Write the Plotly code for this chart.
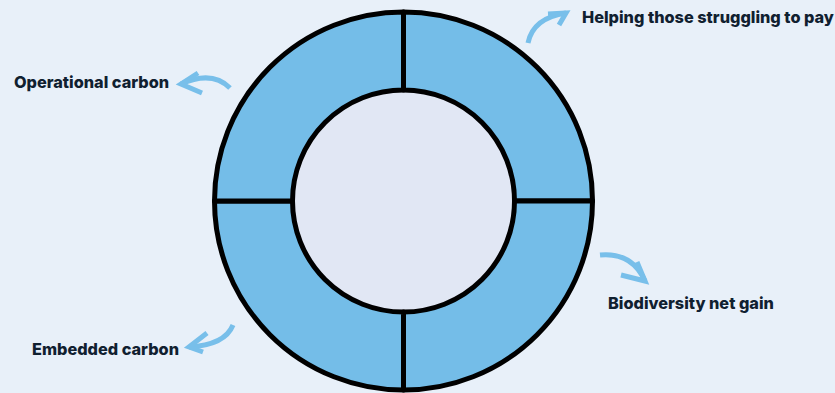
import plotly.graph_objects as go

categories = ["Helping those struggling to pay", "Biodiversity net gain",
              "Embedded carbon", "Operational carbon"]
values = [25, 25, 25, 25]

W, H = 835, 393
BG = "#e8f0f9"
HOLE_BG = "#e1e7f4"
RING = "#74bde8"
ARROW = "#78bfea"
TEXT = "#102030"

cx, cy, R, r_in = 403.5, 201, 189, 111


def px(x):
    return x / W


def py(y):
    return 1 - y / H


def path(pts_cmds):
    out = []
    for c in pts_cmds:
        if isinstance(c, str):
            out.append(c)
        else:
            out.append(f"{px(c[0]):.5f},{py(c[1]):.5f}")
    return " ".join(out)


fig = go.Figure(go.Pie(
    labels=categories,
    values=values,
    sort=False,
    direction="clockwise",
    rotation=0,
    hole=r_in / R,
    textinfo="none",
    hoverinfo="label",
    showlegend=False,
    marker=dict(colors=[RING] * 4, line=dict(color="#000000", width=5)),
    domain=dict(x=[px(cx - R), px(cx + R)], y=[py(cy + R), py(cy - R)]),
))

shapes = [dict(type="circle", xref="paper", yref="paper", layer="below",
               x0=px(cx - r_in), x1=px(cx + r_in), y0=py(cy + r_in), y1=py(cy - r_in),
               fillcolor=HOLE_BG, line=dict(width=0))]

arrows = [
    # shaft, barb1, barb2 (pixel coords)
    (["M", (230, 88), "Q", (212, 70), (181, 84)], (198, 73), (202, 93), (181, 84)),
    (["M", (528, 43), "Q", (533, 18), (566, 13)], (548, 14), (559, 25), (566, 13)),
    (["M", (600, 255), "Q", (632, 252), (645, 281)], (621, 275), (637, 262), (645, 281)),
    (["M", (233, 325), "Q", (225, 345), (189, 347)], (207, 333), (203, 352), (189, 347)),
]
for shaft, b1, b2, tip in arrows:
    shapes.append(dict(type="path", xref="paper", yref="paper", path=path(shaft),
                       line=dict(color=ARROW, width=5)))
    shapes.append(dict(type="path", xref="paper", yref="paper",
                       path=path(["M", b1, "L", tip, "L", b2]),
                       line=dict(color=ARROW, width=5)))

label_pos = {
    "Helping those struggling to pay": (580, 17, "left"),
    "Biodiversity net gain": (606, 303, "left"),
    "Embedded carbon": (30, 349, "left"),
    "Operational carbon": (12, 82, "left"),
}
annotations = []
for name in categories:
    x, y, anc = label_pos[name]
    annotations.append(dict(x=px(x), y=py(y), xref="paper", yref="paper",
                            text=name, showarrow=False,
                            xanchor=anc, yanchor="middle",
                            font=dict(family="Inter", size=16.3, weight=800, color=TEXT)))

fig.update_layout(
    width=W, height=H,
    margin=dict(l=0, r=0, t=0, b=0),
    paper_bgcolor=BG, plot_bgcolor=BG,
    shapes=shapes, annotations=annotations,
)

fig.write_html("out.html", config={"displayModeBar": False},
               post_script="document.body.style.margin='0';document.body.style.background='" + BG + "';")
